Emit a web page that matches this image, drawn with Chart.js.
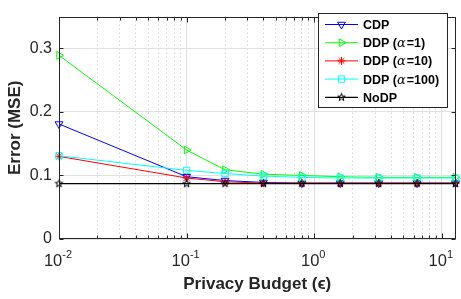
<!DOCTYPE html>
<html>
<head>
<meta charset="utf-8">
<script src="https://cdn.jsdelivr.net/npm/chart.js@4.4.0/dist/chart.umd.min.js"></script>
<style>
  html, body { margin: 0; padding: 0; background: #fff; }
</style>
</head>
<body>
<canvas id="chart" width="461" height="299"></canvas>
<script>
// 横軸: プライバシー予算 (対数)
const budgets = [0.01, 0.1, 0.2, 0.4, 0.8, 1.6, 3.2, 6.4, 12.8];

// 各方式の誤差 (MSE)
const cdp    = [0.181, 0.098, 0.092, 0.089, 0.088, 0.088, 0.088, 0.088, 0.088];
const ddp1   = [0.289, 0.140, 0.109, 0.102, 0.100, 0.098, 0.097, 0.097, 0.097];
const ddp10  = [0.130, 0.096, 0.090, 0.088, 0.088, 0.088, 0.088, 0.088, 0.088];
const ddp100 = [0.131, 0.108, 0.103, 0.099, 0.097, 0.096, 0.096, 0.096, 0.096];
const noDP   = [0.087, 0.087, 0.087, 0.087, 0.087, 0.087, 0.087, 0.087, 0.087];

const seriesNames = ['CDP', 'DDP', 'DDP', 'DDP', 'NoDP'];
const seriesAlpha = [null, 1, 10, 100, null];

// 目盛り
const xTickExps = [-2, -1, 0, 1];
const yTicks = [0, 0.1, 0.2, 0.3];

const FONT = "'Liberation Sans', Arial, Helvetica, sans-serif";
const TEXT = '#262626';

function isDecade(v) {
    const l = Math.log10(v);
    return Math.abs(l - Math.round(l)) < 1e-9;
}

// 五芒星マーカー (Chart.js に無いので画像で作る)
function pentagram(r, color) {
    const s = Math.ceil(r * 2 + 3);
    const c = document.createElement('canvas');
    c.width = s; c.height = s;
    const g = c.getContext('2d');
    g.beginPath();
    for (let i = 0; i < 10; i++) {
        const rr = i % 2 ? r * 0.4 : r;
        const a = -Math.PI / 2 + i * Math.PI / 5;
        const px = s / 2 + rr * Math.cos(a), py = s / 2 + rr * Math.sin(a);
        if (i === 0) g.moveTo(px, py); else g.lineTo(px, py);
    }
    g.closePath();
    g.strokeStyle = color;
    g.lineWidth = 1;
    g.stroke();
    return c;
}
const starImg = pentagram(4, '#000');

const styles = [
    { color: '#0000ff', pointStyle: 'triangle', rotation: 180, radius: 4.5, order: 5 },
    { color: '#00ff00', pointStyle: 'triangle', rotation: 90,  radius: 4.5, order: 4 },
    { color: '#ff0000', pointStyle: 'star',     rotation: 0,   radius: 4,   order: 3 },
    { color: '#00ffff', pointStyle: 'rect',     rotation: 0,   radius: 4.5, order: 2 },
    { color: '#000000', pointStyle: starImg,    rotation: 0,   radius: 4,   order: 1 }
];
const seriesValues = [cdp, ddp1, ddp10, ddp100, noDP];

function labelOf(i) {
    return seriesAlpha[i] === null ? seriesNames[i] : `${seriesNames[i]} (α=${seriesAlpha[i]})`;
}

const datasets = seriesValues.map((vals, i) => ({
    label: labelOf(i),
    data: budgets.map((b, j) => ({ x: b, y: vals[j] })),
    borderColor: styles[i].color,
    borderWidth: i === 4 ? 1.3 : 1,
    pointBorderColor: styles[i].color,
    pointBackgroundColor: 'rgba(0,0,0,0)',
    pointBorderWidth: 1,
    pointStyle: styles[i].pointStyle,
    pointRotation: styles[i].rotation,
    pointRadius: styles[i].radius,
    tension: 0,
    clip: false,
    order: styles[i].order
}));

// 枠・内向き目盛り・x軸ラベル
const framePlugin = {
    id: 'frame',
    afterDatasetsDraw(chart) {
        const { ctx, chartArea: a, scales: { x, y } } = chart;
        const L = Math.round(a.left) + 0.5, R = Math.round(a.right) - 0.5;
        const T = Math.round(a.top) + 0.5, B = Math.round(a.bottom) - 0.5;
        ctx.save();
        ctx.strokeStyle = TEXT;
        ctx.lineWidth = 1;
        ctx.strokeRect(L, T, R - L, B - T);
        ctx.beginPath();
        x.ticks.forEach(t => {
            const px = Math.round(x.getPixelForValue(t.value)) + 0.5;
            const len = isDecade(t.value) ? 5 : 3;
            ctx.moveTo(px, B); ctx.lineTo(px, B - len);
            ctx.moveTo(px, T); ctx.lineTo(px, T + len);
        });
        y.ticks.forEach(t => {
            const py = Math.round(y.getPixelForValue(t.value)) + 0.5;
            ctx.moveTo(L, py); ctx.lineTo(L + 4, py);
            ctx.moveTo(R, py); ctx.lineTo(R - 4, py);
        });
        ctx.stroke();

        // 10^n ラベル
        ctx.fillStyle = TEXT;
        ctx.textBaseline = 'alphabetic';
        ctx.textAlign = 'left';
        xTickExps.forEach(e => {
            const px = x.getPixelForValue(Math.pow(10, e));
            ctx.font = '16.5px ' + FONT;
            const w1 = ctx.measureText('10').width;
            ctx.font = '11px ' + FONT;
            const w2 = ctx.measureText(String(e)).width;
            const x0 = px - (w1 + w2) / 2 - 1;
            ctx.font = '16.5px ' + FONT;
            ctx.fillText('10', x0, a.bottom + 27);
            ctx.font = '11px ' + FONT;
            ctx.fillText(String(e), x0 + w1, a.bottom + 19);
        });
        ctx.restore();
    },
    afterDraw(chart) {
        const { ctx } = chart;
        const box = { left: 318.5, top: 13.5, right: 447.5, bottom: 107.5 };
        ctx.save();
        ctx.fillStyle = '#fff';
        ctx.fillRect(box.left, box.top, box.right - box.left, box.bottom - box.top);
        ctx.strokeStyle = TEXT;
        ctx.lineWidth = 1;
        ctx.strokeRect(box.left, box.top, box.right - box.left, box.bottom - box.top);

        datasets.forEach((ds, i) => {
            const cy = 24.5 + i * 18.2;
            ctx.strokeStyle = ds.borderColor;
            ctx.lineWidth = ds.borderWidth;
            ctx.beginPath();
            ctx.moveTo(325, cy); ctx.lineTo(358, cy);
            ctx.stroke();
            ctx.fillStyle = 'rgba(0,0,0,0)';
            ctx.lineWidth = 1;
            if (Chart.helpers && Chart.helpers.drawPoint) {
                Chart.helpers.drawPoint(ctx, {
                    pointStyle: ds.pointStyle,
                    rotation: ds.pointRotation,
                    radius: ds.pointRadius,
                    borderWidth: 1
                }, 341.5, cy);
            }

            // ラベル (α は斜体)
            let tx = 363;
            const by = cy + 4.5;
            ctx.fillStyle = '#000';
            ctx.textBaseline = 'alphabetic';
            ctx.font = 'bold 12.5px ' + FONT;
            const head = seriesAlpha[i] === null ? seriesNames[i] : seriesNames[i] + ' (';
            ctx.fillText(head, tx, by);
            tx += ctx.measureText(head).width;
            if (seriesAlpha[i] !== null) {
                ctx.font = 'italic 13px "DejaVu Serif", serif';
                ctx.fillText('α', tx, by);
                tx += ctx.measureText('α').width + 1;
                ctx.font = 'bold 12.5px ' + FONT;
                ctx.fillText('=' + seriesAlpha[i] + ')', tx, by);
            }
        });
        ctx.restore();
    }
};

new Chart(document.getElementById('chart'), {
    type: 'line',
    data: { datasets },
    options: {
        responsive: false,
        devicePixelRatio: 1,
        animation: false,
        layout: { padding: { left: 0, right: 2, top: 2, bottom: 0 } },
        plugins: {
            legend: { display: false },
            tooltip: { enabled: false }
        },
        scales: {
            x: {
                type: 'logarithmic',
                min: budgets[0],
                max: budgets[budgets.length - 1],
                afterBuildTicks: scale => {
                    const ticks = [];
                    xTickExps.forEach(e => {
                        for (let m = 1; m <= 9; m++) {
                            const v = m * Math.pow(10, e);
                            if (v >= scale.min - 1e-12 && v <= scale.max + 1e-9) ticks.push({ value: v });
                        }
                    });
                    scale.ticks = ticks;
                },
                afterFit: scale => { scale.height = 60; },
                grid: {
                    drawTicks: false,
                    color: c => isDecade(c.tick.value) ? '#dedede' : '#c8c8c8',
                    lineWidth: 1
                },
                border: {
                    display: false,
                    dash: c => (c.tick && !isDecade(c.tick.value)) ? [1, 3] : []
                },
                ticks: { display: false },
                title: {
                    display: true,
                    text: 'Privacy Budget (ϵ)',
                    color: TEXT,
                    font: { family: FONT, size: 17, weight: 'bold' },
                    padding: { top: 0, bottom: 4 }
                }
            },
            y: {
                min: 0,
                max: 0.35,
                afterBuildTicks: scale => { scale.ticks = yTicks.map(v => ({ value: v })); },
                afterFit: scale => { scale.width = 59; },
                grid: { drawTicks: false, color: '#e0e0e0', lineWidth: 1 },
                border: { display: false },
                ticks: {
                    color: TEXT,
                    font: { family: FONT, size: 16 },
                    padding: 7,
                    callback: v => v === 0 ? '0' : v.toFixed(1)
                },
                title: {
                    display: true,
                    text: 'Error (MSE)',
                    color: TEXT,
                    font: { family: FONT, size: 17, weight: 'bold' },
                    padding: { top: 5, bottom: 0 }
                }
            }
        }
    },
    plugins: [framePlugin]
});
</script>
</body>
</html>
